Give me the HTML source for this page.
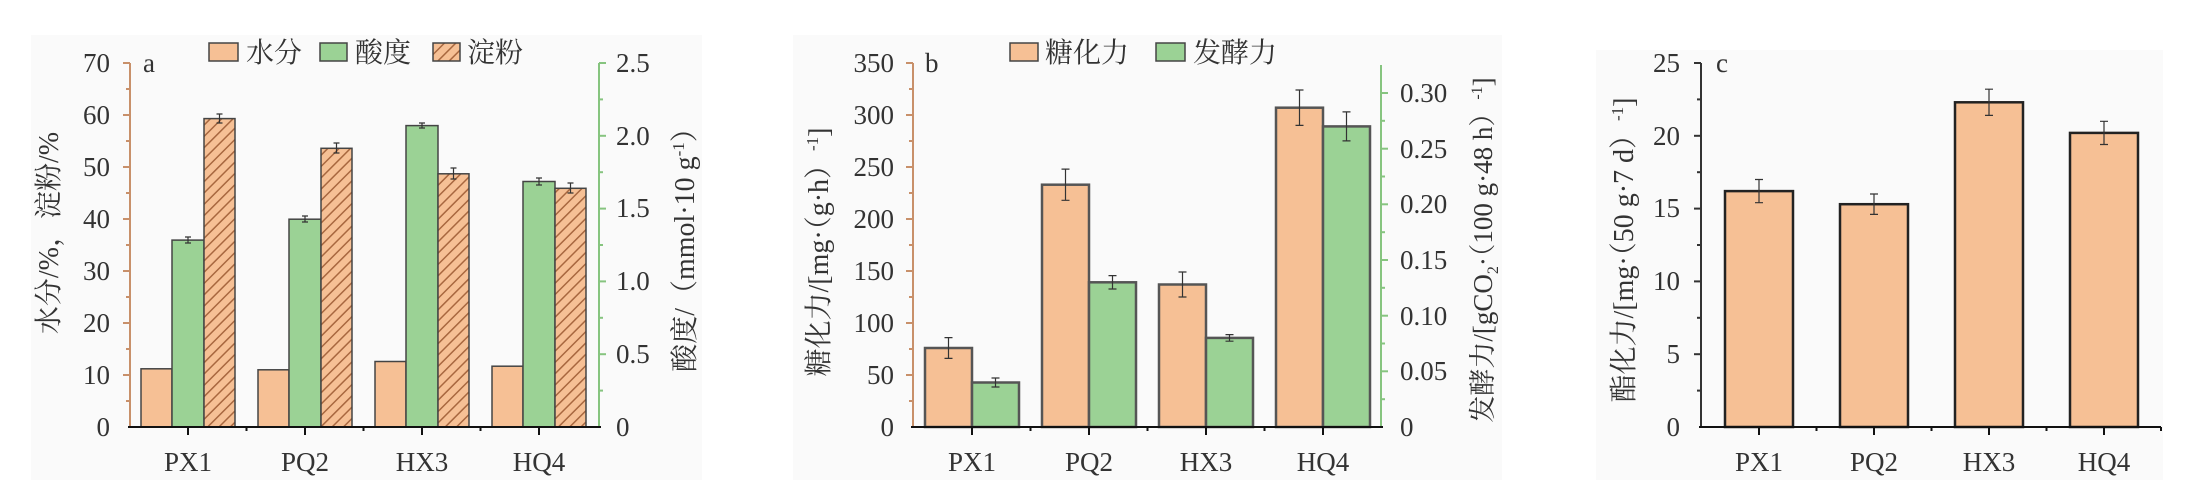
<!DOCTYPE html>
<html><head><meta charset="utf-8"><style>body{margin:0;background:#fff}svg{display:block}</style></head><body>
<svg width="2197" height="502" viewBox="0 0 2197 502" xmlns="http://www.w3.org/2000/svg" font-family="'Liberation Serif','Noto Serif CJK SC',serif">
<defs>
<pattern id="h" width="8" height="8" patternUnits="userSpaceOnUse" patternTransform="rotate(45)">
<rect width="8" height="8" fill="#f6c095"/><line x1="0" y1="0" x2="0" y2="8" stroke="#a8673f" stroke-width="3"/>
</pattern>
</defs>
<rect width="2197" height="502" fill="#fff"/>
<rect x="31" y="35" width="671" height="445" fill="#fafafa"/>
<rect x="793" y="35" width="709" height="445" fill="#fafafa"/>
<rect x="1596" y="50" width="567" height="430" fill="#fafafa"/>

<!-- Panel a -->
<g stroke="#c8906a" stroke-width="2">
<line x1="130" y1="63" x2="130" y2="427"/>
<line x1="123" y1="63" x2="130" y2="63"/><line x1="123" y1="115" x2="130" y2="115"/><line x1="123" y1="167" x2="130" y2="167"/><line x1="123" y1="219" x2="130" y2="219"/><line x1="123" y1="271" x2="130" y2="271"/><line x1="123" y1="323" x2="130" y2="323"/><line x1="123" y1="375" x2="130" y2="375"/>
<line x1="126" y1="89" x2="130" y2="89"/><line x1="126" y1="141" x2="130" y2="141"/><line x1="126" y1="193" x2="130" y2="193"/><line x1="126" y1="245" x2="130" y2="245"/><line x1="126" y1="297" x2="130" y2="297"/><line x1="126" y1="349" x2="130" y2="349"/><line x1="126" y1="401" x2="130" y2="401"/>
</g>
<g stroke="#86c47f" stroke-width="2">
<line x1="599" y1="63" x2="599" y2="427"/>
<line x1="599" y1="63" x2="606" y2="63"/><line x1="599" y1="135.8" x2="606" y2="135.8"/><line x1="599" y1="208.6" x2="606" y2="208.6"/><line x1="599" y1="281.4" x2="606" y2="281.4"/><line x1="599" y1="354.2" x2="606" y2="354.2"/>
<line x1="599" y1="99.4" x2="603" y2="99.4"/><line x1="599" y1="172.2" x2="603" y2="172.2"/><line x1="599" y1="245" x2="603" y2="245"/><line x1="599" y1="317.8" x2="603" y2="317.8"/><line x1="599" y1="390.6" x2="603" y2="390.6"/>
</g>
<g stroke="#444" stroke-width="1.5">
<rect x="141" y="368.8" width="31" height="58.2" fill="#f6c095"/>
<rect x="258" y="369.8" width="31" height="57.2" fill="#f6c095"/>
<rect x="375" y="361.5" width="31" height="65.5" fill="#f6c095"/>
<rect x="492" y="366.2" width="31" height="60.8" fill="#f6c095"/>
<rect x="172" y="240.1" width="32" height="186.9" fill="#9bd295"/>
<rect x="289" y="219.2" width="32" height="207.8" fill="#9bd295"/>
<rect x="406" y="125.6" width="32" height="301.4" fill="#9bd295"/>
<rect x="523" y="181.5" width="32" height="245.5" fill="#9bd295"/>
<rect x="204" y="118.6" width="31" height="308.4" fill="url(#h)"/>
<rect x="321" y="148.3" width="31" height="278.7" fill="url(#h)"/>
<rect x="438" y="173.8" width="31" height="253.2" fill="url(#h)"/>
<rect x="555" y="188.3" width="31" height="238.7" fill="url(#h)"/>
</g>
<g stroke="#333" stroke-width="1.2">
<path d="M188 237v6M185 237h6M185 243h6"/><path d="M305 216v6M302 216h6M302 222h6"/><path d="M422 123v5M419 123h6M419 128h6"/><path d="M539 178v7M536 178h6M536 185h6"/>
<path d="M219.5 114v9M216.5 114h6M216.5 123h6"/><path d="M336.5 143v10M333.5 143h6M333.5 153h6"/><path d="M453.5 168v11M450.5 168h6M450.5 179h6"/><path d="M570.5 183v10M567.5 183h6M567.5 193h6"/>
</g>
<g stroke="#111" stroke-width="2"><line x1="128" y1="427" x2="601" y2="427"/>
<line x1="188" y1="427" x2="188" y2="435"/><line x1="305" y1="427" x2="305" y2="435"/><line x1="422" y1="427" x2="422" y2="435"/><line x1="539" y1="427" x2="539" y2="435"/>
<line x1="246.5" y1="427" x2="246.5" y2="431"/><line x1="363.5" y1="427" x2="363.5" y2="431"/><line x1="480.5" y1="427" x2="480.5" y2="431"/></g>
<g font-size="27" fill="#333" text-anchor="end">
<text x="110" y="72">70</text><text x="110" y="124">60</text><text x="110" y="176">50</text><text x="110" y="228">40</text><text x="110" y="280">30</text><text x="110" y="332">20</text><text x="110" y="384">10</text><text x="110" y="436">0</text>
</g>
<g font-size="27" fill="#333">
<text x="616" y="72">2.5</text><text x="616" y="145">2.0</text><text x="616" y="217">1.5</text><text x="616" y="290">1.0</text><text x="616" y="363">0.5</text><text x="616" y="436">0</text>
<text x="143" y="72">a</text>
</g>
<g font-size="27" fill="#333" text-anchor="middle">
<text x="188" y="471">PX1</text><text x="305" y="471">PQ2</text><text x="422" y="471">HX3</text><text x="539" y="471">HQ4</text>
</g>
<text transform="translate(58,233) rotate(-90)" font-size="28" fill="#333" text-anchor="middle">水分/%，淀粉/%</text>
<text transform="translate(694,243) rotate(-90)" font-size="28" fill="#333" text-anchor="middle">酸度/（mmol·10 g<tspan font-size="17" dy="-10">-1</tspan><tspan dy="10">）</tspan></text>
<g stroke="#444" stroke-width="1.5">
<rect x="209" y="43" width="29" height="18" fill="#f6c095"/><rect x="320" y="43" width="27" height="18" fill="#9bd295"/><rect x="433" y="43" width="27" height="18" fill="url(#h)"/>
</g>
<g font-size="28" fill="#333"><text x="246" y="62">水分</text><text x="355" y="62">酸度</text><text x="467" y="62">淀粉</text></g>

<!-- Panel b -->
<g stroke="#c8906a" stroke-width="2">
<line x1="913" y1="63" x2="913" y2="427"/>
<line x1="906" y1="63" x2="913" y2="63"/><line x1="906" y1="115" x2="913" y2="115"/><line x1="906" y1="167" x2="913" y2="167"/><line x1="906" y1="219" x2="913" y2="219"/><line x1="906" y1="271" x2="913" y2="271"/><line x1="906" y1="323" x2="913" y2="323"/><line x1="906" y1="375" x2="913" y2="375"/>
<line x1="909" y1="89" x2="913" y2="89"/><line x1="909" y1="141" x2="913" y2="141"/><line x1="909" y1="193" x2="913" y2="193"/><line x1="909" y1="245" x2="913" y2="245"/><line x1="909" y1="297" x2="913" y2="297"/><line x1="909" y1="349" x2="913" y2="349"/><line x1="909" y1="401" x2="913" y2="401"/>
</g>
<g stroke="#86c47f" stroke-width="2">
<line x1="1381" y1="65" x2="1381" y2="427"/>
<line x1="1381" y1="93" x2="1388" y2="93"/><line x1="1381" y1="148.7" x2="1388" y2="148.7"/><line x1="1381" y1="204.3" x2="1388" y2="204.3"/><line x1="1381" y1="260" x2="1388" y2="260"/><line x1="1381" y1="315.7" x2="1388" y2="315.7"/><line x1="1381" y1="371.3" x2="1388" y2="371.3"/>
<line x1="1381" y1="120.8" x2="1385" y2="120.8"/><line x1="1381" y1="176.5" x2="1385" y2="176.5"/><line x1="1381" y1="232.2" x2="1385" y2="232.2"/><line x1="1381" y1="287.8" x2="1385" y2="287.8"/><line x1="1381" y1="343.5" x2="1385" y2="343.5"/><line x1="1381" y1="399.2" x2="1385" y2="399.2"/>
</g>
<g stroke="#555" stroke-width="2.5">
<rect x="925" y="348" width="47" height="79" fill="#f6c095"/>
<rect x="1042" y="184.7" width="47" height="242.3" fill="#f6c095"/>
<rect x="1159" y="284.5" width="47" height="142.5" fill="#f6c095"/>
<rect x="1276" y="107.7" width="47" height="319.3" fill="#f6c095"/>
<rect x="972" y="382.5" width="47" height="44.5" fill="#9bd295"/>
<rect x="1089" y="282.3" width="47" height="144.7" fill="#9bd295"/>
<rect x="1206" y="337.9" width="47" height="89.1" fill="#9bd295"/>
<rect x="1323" y="126.4" width="47" height="300.6" fill="#9bd295"/>
</g>
<g stroke="#333" stroke-width="1.2">
<path d="M948.5 337.6v20.8M944.5 337.6h8M944.5 358.4h8"/><path d="M1065.5 169.1v31.2M1061.5 169.1h8M1061.5 200.3h8"/><path d="M1182.5 272v25M1178.5 272h8M1178.5 297h8"/><path d="M1299.5 90v35.4M1295.5 90h8M1295.5 125.4h8"/>
<path d="M995.5 378v9M991.5 378h8M991.5 387h8"/><path d="M1112.5 275.6v13.4M1108.5 275.6h8M1108.5 289h8"/><path d="M1229.5 334.6v6.6M1225.5 334.6h8M1225.5 341.2h8"/><path d="M1346.5 111.9v29M1342.5 111.9h8M1342.5 140.9h8"/>
</g>
<g stroke="#111" stroke-width="2"><line x1="911" y1="427" x2="1383" y2="427"/>
<line x1="972" y1="427" x2="972" y2="435"/><line x1="1089" y1="427" x2="1089" y2="435"/><line x1="1206" y1="427" x2="1206" y2="435"/><line x1="1323" y1="427" x2="1323" y2="435"/>
<line x1="1030.5" y1="427" x2="1030.5" y2="431"/><line x1="1147.5" y1="427" x2="1147.5" y2="431"/><line x1="1264.5" y1="427" x2="1264.5" y2="431"/></g>
<g font-size="27" fill="#333" text-anchor="end">
<text x="894" y="72">350</text><text x="894" y="124">300</text><text x="894" y="176">250</text><text x="894" y="228">200</text><text x="894" y="280">150</text><text x="894" y="332">100</text><text x="894" y="384">50</text><text x="894" y="436">0</text>
</g>
<g font-size="27" fill="#333">
<text x="1400" y="102">0.30</text><text x="1400" y="158">0.25</text><text x="1400" y="213">0.20</text><text x="1400" y="269">0.15</text><text x="1400" y="325">0.10</text><text x="1400" y="380">0.05</text><text x="1400" y="436">0</text>
<text x="925" y="72">b</text>
</g>
<g font-size="27" fill="#333" text-anchor="middle">
<text x="972" y="471">PX1</text><text x="1089" y="471">PQ2</text><text x="1206" y="471">HX3</text><text x="1323" y="471">HQ4</text>
</g>
<text transform="translate(828,252) rotate(-90)" font-size="28" fill="#333" text-anchor="middle">糖化力/[mg·（g·h）<tspan font-size="17" dy="-10">-1</tspan><tspan dy="10">]</tspan></text>
<text transform="translate(1492,250) rotate(-90)" font-size="27" fill="#333" text-anchor="middle">发酵力/[gCO<tspan font-size="16" dy="6">2</tspan><tspan dy="-6">·（100 g·48 h）</tspan><tspan font-size="16" dy="-10">-1</tspan><tspan dy="10">]</tspan></text>
<g stroke="#444" stroke-width="1.5">
<rect x="1010" y="43" width="28" height="18" fill="#f6c095"/><rect x="1156" y="43" width="29" height="18" fill="#9bd295"/>
</g>
<g font-size="28" fill="#333"><text x="1045" y="62">糖化力</text><text x="1193" y="62">发酵力</text></g>

<!-- Panel c -->
<g stroke="#333" stroke-width="2">
<line x1="1701" y1="63" x2="1701" y2="427"/>
<line x1="1694" y1="63" x2="1701" y2="63"/><line x1="1694" y1="135.8" x2="1701" y2="135.8"/><line x1="1694" y1="208.6" x2="1701" y2="208.6"/><line x1="1694" y1="281.4" x2="1701" y2="281.4"/><line x1="1694" y1="354.2" x2="1701" y2="354.2"/>
<line x1="1697" y1="99.4" x2="1701" y2="99.4"/><line x1="1697" y1="172.2" x2="1701" y2="172.2"/><line x1="1697" y1="245" x2="1701" y2="245"/><line x1="1697" y1="317.8" x2="1701" y2="317.8"/><line x1="1697" y1="390.6" x2="1701" y2="390.6"/>
</g>
<g stroke="#222" stroke-width="2.5" fill="#f6c095">
<rect x="1725" y="191.1" width="68" height="235.9"/>
<rect x="1840" y="204.2" width="68" height="222.8"/>
<rect x="1955" y="102.3" width="68" height="324.7"/>
<rect x="2070" y="132.9" width="68" height="294.1"/>
</g>
<g stroke="#333" stroke-width="1.2">
<path d="M1759 179.5v23.2M1755 179.5h8M1755 202.7h8"/><path d="M1874 194v20.4M1870 194h8M1870 214.4h8"/><path d="M1989 89.2v26.2M1985 89.2h8M1985 115.4h8"/><path d="M2104 121.3v23.2M2100 121.3h8M2100 144.5h8"/>
</g>
<g stroke="#111" stroke-width="2"><line x1="1699" y1="427" x2="2161" y2="427"/>
<line x1="1759" y1="427" x2="1759" y2="435"/><line x1="1874" y1="427" x2="1874" y2="435"/><line x1="1989" y1="427" x2="1989" y2="435"/><line x1="2104" y1="427" x2="2104" y2="435"/>
<line x1="1816.5" y1="427" x2="1816.5" y2="431"/><line x1="1931.5" y1="427" x2="1931.5" y2="431"/><line x1="2046.5" y1="427" x2="2046.5" y2="431"/><line x1="2161" y1="427" x2="2161" y2="431"/></g>
<g font-size="27" fill="#333" text-anchor="end">
<text x="1680" y="72">25</text><text x="1680" y="145">20</text><text x="1680" y="217">15</text><text x="1680" y="290">10</text><text x="1680" y="363">5</text><text x="1680" y="436">0</text>
</g>
<text x="1716" y="72" font-size="27" fill="#333">c</text>
<g font-size="27" fill="#333" text-anchor="middle">
<text x="1759" y="471">PX1</text><text x="1874" y="471">PQ2</text><text x="1989" y="471">HX3</text><text x="2104" y="471">HQ4</text>
</g>
<text transform="translate(1633,250) rotate(-90)" font-size="28" fill="#333" text-anchor="middle">酯化力/[mg·（50 g·7 d）<tspan font-size="17" dy="-10">-1</tspan><tspan dy="10">]</tspan></text>
</svg>
</body></html>
